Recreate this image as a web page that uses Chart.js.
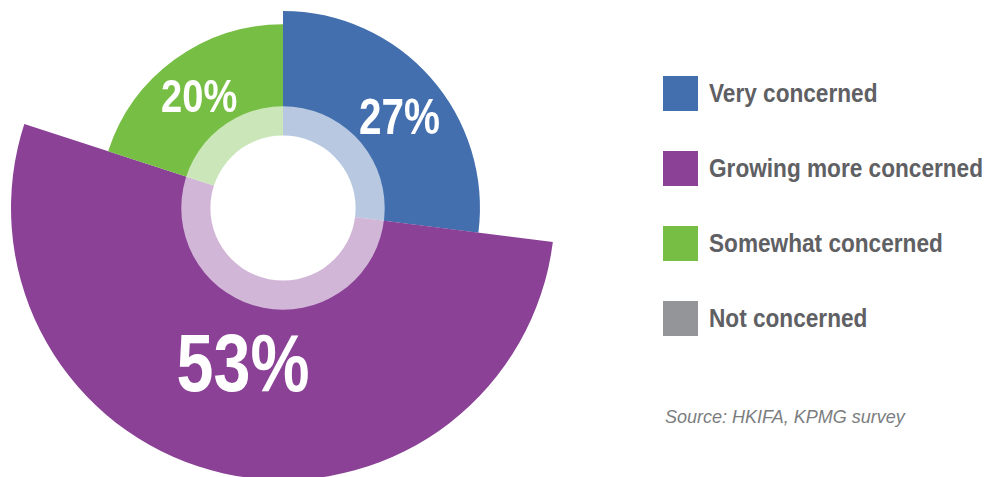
<!DOCTYPE html>
<html>
<head>
<meta charset="utf-8">
<script src="https://cdn.jsdelivr.net/npm/chart.js@4.4.1/dist/chart.umd.min.js"></script>
<style>
  html, body {
    margin: 0;
    width: 992px;
    height: 477px;
    overflow: hidden;
    background: #fff;
    position: relative;
  }
  #wrap {
    position: absolute;
    left: 11px;
    top: -64px;
    width: 544px;
    height: 544px;
  }
  #legend {
    position: absolute;
    left: 663px;
    top: 76px;
    margin: 0;
    padding: 0;
    list-style: none;
  }
  #legend li {
    display: flex;
    align-items: center;
    height: 35px;
    margin-bottom: 40px;
    white-space: nowrap;
  }
  #legend span.box {
    display: inline-block;
    width: 35px;
    height: 35px;
    margin-right: 11px;
    flex: none;
  }
  #legend span.name {
    display: inline-block;
    font-family: "Liberation Sans", Arial, sans-serif;
    font-weight: bold;
    font-size: 25.5px;
    color: #5f6064;
    transform: scaleX(0.887);
    transform-origin: left center;
  }
  #source {
    position: absolute;
    left: 665px;
    top: 407px;
    font-family: "Liberation Sans", Arial, sans-serif;
    font-style: italic;
    font-size: 18px;
    color: #7b7d80;
  }
</style>
</head>
<body>
<div id="wrap"><canvas id="chart"></canvas></div>
<ul id="legend"></ul>
<div id="source">Source: HKIFA, KPMG survey</div>

<script>
// answers (percent of respondents)
const labels = ['Very concerned', 'Growing more concerned', 'Somewhat concerned', 'Not concerned'];
const shares = [27, 53, 20, 0];
// how far each slice reaches out (purple = 100)
const reach = [72.4, 100, 67.6, 0];
const colors = ['#436faf', '#8a4196', '#77be45', '#939598'];

// the pale ring and white hole in the middle
const ringReach = 37.4;
const holeReach = 26.7;

const labelFont = '"Liberation Sans", Arial, sans-serif';

// where the % text sits inside each slice: fraction of slice radius, nudge in degrees, font size
const labelSpots = [
    { r: 0.753, turn: 3.2, size: 50 },
    { r: 0.583, turn: 2.0, size: 82 },
    { r: 0.765, turn: -0.6, size: 47 },
    null
];

const percentLabels = {
    id: 'percentLabels',
    afterDatasetsDraw(chart) {
        const ctx = chart.ctx;
        const meta = chart.getDatasetMeta(0);
        meta.data.forEach((arc, i) => {
            const spot = labelSpots[i];
            if (!spot || !shares[i]) return;
            const mid = (arc.startAngle + arc.endAngle) / 2 + spot.turn * Math.PI / 180;
            const dist = arc.outerRadius * spot.r;
            const x = arc.x + Math.cos(mid) * dist;
            const y = arc.y + Math.sin(mid) * dist;
            ctx.save();
            ctx.translate(x, y + spot.size * 0.358);
            ctx.scale(0.81, 1); // squeeze to look condensed
            ctx.fillStyle = '#ffffff';
            ctx.font = 'bold ' + spot.size + 'px ' + labelFont;
            ctx.textAlign = 'center';
            ctx.textBaseline = 'alphabetic';
            ctx.fillText(shares[i] + '%', 0, 0);
            ctx.restore();
        });
    }
};

const ctx = document.getElementById('chart').getContext('2d');
const myChart = new Chart(ctx, {
    type: 'polarArea',
    data: {
        labels: labels,
        datasets: [{
            data: reach,
            backgroundColor: colors,
            angle: c => shares[c.dataIndex] * 3.6 || 0.0001,
            borderWidth: 0,
            order: 3
        }, {
            data: [ringReach],
            backgroundColor: 'rgba(255, 255, 255, 0.62)',
            borderWidth: 0,
            order: 2
        }, {
            data: [holeReach],
            backgroundColor: '#ffffff',
            borderWidth: 0,
            order: 1
        }]
    },
    options: {
        responsive: true,
        maintainAspectRatio: false,
        animation: false,
        events: [],
        layout: { padding: 0 },
        plugins: {
            legend: { display: false },
            tooltip: { enabled: false }
        },
        scales: {
            r: {
                display: false,
                min: 0,
                max: 100,
                ticks: { display: false }
            }
        }
    },
    plugins: [percentLabels]
});

// legend on the right
const legend = document.getElementById('legend');
labels.forEach((name, i) => {
    const li = document.createElement('li');
    li.innerHTML = `<span class="box" style="background:${colors[i]}"></span><span class="name">${name}</span>`;
    legend.appendChild(li);
});
</script>
</body>
</html>
